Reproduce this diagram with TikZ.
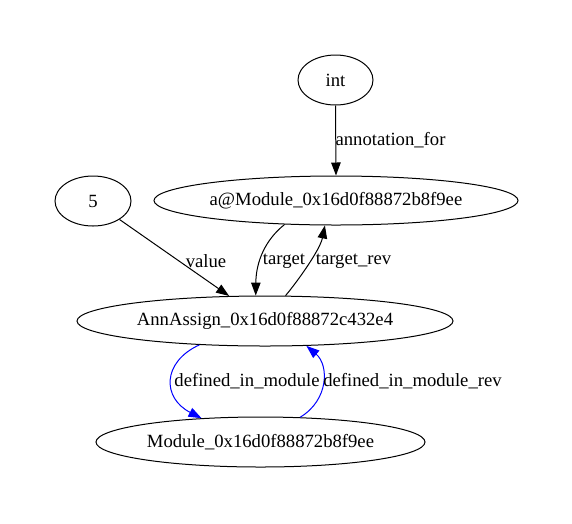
\documentclass[tikz,border=0pt]{standalone}
\usepackage{fontspec}
\setmainfont{Liberation Serif}
\usetikzlibrary{shapes.geometric,arrows.meta}
\begin{document}
\begin{tikzpicture}[x=1pt,y=-1pt,
  every node/.style={font=\fontsize{18.67}{22}\selectfont},
  vertex/.style={ellipse,draw,line width=1pt,inner sep=0pt,minimum height=50pt},
  edge/.style={line width=1pt,-{Triangle[length=13pt,width=9.5pt]}},
  modedge/.style={edge,blue},
  elabel/.style={inner sep=0pt}]
\useasboundingbox (0,0) rectangle (572,523);

% nodes
\node[vertex,minimum width=75pt] (int) at (335.5,80) {int};
\node[vertex,minimum width=76pt] (five) at (93,201) {5};
\node[vertex,minimum width=364pt,minimum height=49pt] (amod) at (336,200.5) {a@Module\_0x16d0f88872b8f9ee};
\node[vertex,minimum width=376pt] (ann) at (265,321) {AnnAssign\_0x16d0f88872c432e4};
\node[vertex,minimum width=329pt] (mod) at (260.5,442) {Module\_0x16d0f88872b8f9ee};

% edges
\draw[edge] (int.south) -- (amod.north);
\draw[edge] (five) -- (ann);
\draw[edge] (amod.205) .. controls (265,240) and (256,262) .. (ann.110);
\draw[edge] (ann.51) .. controls (297,282) and (320,250) .. (amod.246);
\draw[modedge] (ann.200) .. controls (162,362) and (162,398) .. (mod.158);
\draw[modedge] (mod.32) .. controls (329,400) and (329,365) .. (ann.329);

% edge labels
\node[elabel] (lann) at (390.5,140) {annotation\_for};
\node[elabel] (lval) at (206,261) {value};
\node[elabel] (ltgt) at (284,261) {target};
\node[elabel] (ltgr) at (353.5,261) {target\_rev};
\node[elabel] (ldim) at (247,381) {defined\_in\_module};
\node[elabel] (ldimr) at (412.5,381) {defined\_in\_module\_rev};
\end{tikzpicture}
\end{document}
